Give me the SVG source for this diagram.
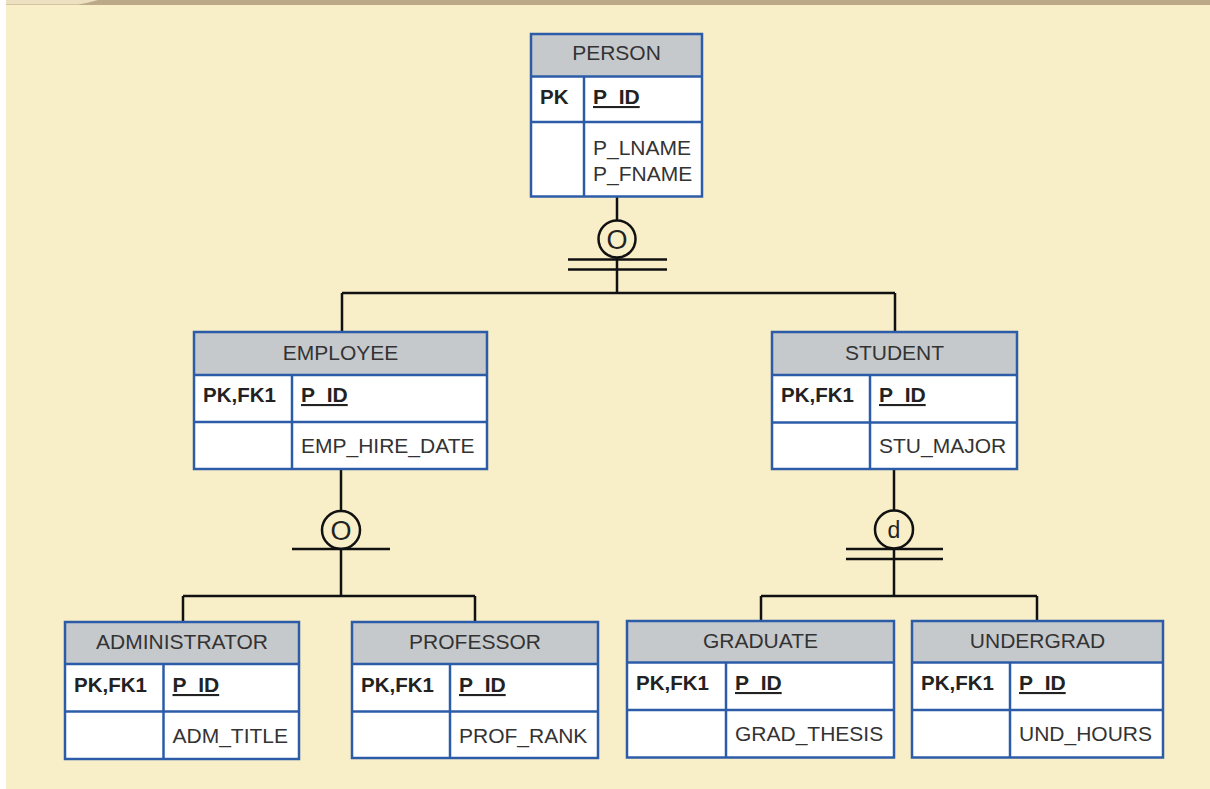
<svg xmlns="http://www.w3.org/2000/svg" width="1210" height="789" viewBox="0 0 1210 789">
<style>
.bg{fill:#f8eec8}
.hd{fill:#c6c9cc}
.cell{fill:#ffffff}
.bd{fill:none;stroke:#2c5ca8;stroke-width:2.5}
.ln{stroke:#2c5ca8;stroke-width:2.5}
.t{font-family:"Liberation Sans",Arial,sans-serif;font-size:21px;fill:#333333}
.th{font-family:"Liberation Sans",Arial,sans-serif;font-size:21px;fill:#333333;text-anchor:middle}
.k{font-family:"Liberation Sans",Arial,sans-serif;font-size:20.5px;font-weight:bold;fill:#222222}
.pk{font-family:"Liberation Sans",Arial,sans-serif;font-size:21px;font-weight:bold;fill:#222222;text-decoration:underline}
.c{fill:none;stroke:#111111;stroke-width:2.5}
.cl{stroke:#111111;stroke-width:2.5;fill:none}
.symo{font-family:"Liberation Sans",Arial,sans-serif;font-size:27px;fill:#222222;text-anchor:middle}
.symd{font-family:"Liberation Sans",Arial,sans-serif;font-size:23px;fill:#222222;text-anchor:middle}
</style>
<rect x="0" y="0" width="1210" height="789" fill="#ffffff"/>
<rect x="6" y="4" width="1204" height="785" class="bg"/>
<rect x="6" y="0" width="1204" height="5" fill="#bca988"/>
<path d="M6 0 H98 Q88 3 78 4.5 H6 Z" fill="#ece0c0"/>

<g id="connectors">
  <path class="cl" d="M617 197 V220.5"/>
  <circle class="c" cx="617" cy="239" r="18.5"/>
  <path class="cl" d="M568 259.5 H667 M568 269.5 H667 M617 257.5 V293 M342 293 H895 M342 293 V332 M895 293 V332"/>

  <path class="cl" d="M341 469 V511"/>
  <circle class="c" cx="341" cy="530" r="19"/>
  <path class="cl" d="M292 549 H390 M341 549 V596 M183 596 H475 M183 596 V622 M475 596 V622"/>

  <path class="cl" d="M894 469 V510.5"/>
  <circle class="c" cx="894" cy="529.5" r="19"/>
  <path class="cl" d="M846 549 H943 M846 559 H943 M894 548.5 V596 M761 596 H1037 M761 596 V621 M1037 596 V621"/>

  <text class="symo" x="617" y="248.5">O</text>
  <text class="symo" x="341" y="539.5">O</text>
  <text class="symd" x="894" y="537.5">d</text>
</g>

<g id="person">
  <rect x="531" y="34" width="171" height="42.5" class="hd"/>
  <rect x="531" y="76.5" width="171" height="120" class="cell"/>
  <line x1="531" y1="76.5" x2="702" y2="76.5" class="ln"/>
  <line x1="531" y1="122" x2="702" y2="122" class="ln"/>
  <line x1="584" y1="76.5" x2="584" y2="196.5" class="ln"/>
  <rect x="531" y="34" width="171" height="162.5" class="bd"/>
  <text class="th" x="616.5" y="60">PERSON</text>
  <text class="k" x="540" y="104">PK</text>
  <text class="pk" x="593" y="104">P_ID</text>
  <text class="t" x="593" y="155">P_LNAME</text>
  <text class="t" x="593" y="181">P_FNAME</text>
</g>

<g id="employee">
  <rect x="194" y="332" width="293" height="43" class="hd"/>
  <rect x="194" y="375" width="293" height="94" class="cell"/>
  <line x1="194" y1="375" x2="487" y2="375" class="ln"/>
  <line x1="194" y1="422" x2="487" y2="422" class="ln"/>
  <line x1="292" y1="375" x2="292" y2="469" class="ln"/>
  <rect x="194" y="332" width="293" height="137" class="bd"/>
  <text class="th" x="340.5" y="360">EMPLOYEE</text>
  <text class="k" x="203" y="402">PK,FK1</text>
  <text class="pk" x="301" y="402">P_ID</text>
  <text class="t" x="301" y="453">EMP_HIRE_DATE</text>
</g>

<g id="student">
  <rect x="772" y="332" width="245" height="43" class="hd"/>
  <rect x="772" y="375" width="245" height="94" class="cell"/>
  <line x1="772" y1="375" x2="1017" y2="375" class="ln"/>
  <line x1="772" y1="422.5" x2="1017" y2="422.5" class="ln"/>
  <line x1="870" y1="375" x2="870" y2="469" class="ln"/>
  <rect x="772" y="332" width="245" height="137" class="bd"/>
  <text class="th" x="894.5" y="360">STUDENT</text>
  <text class="k" x="781" y="402">PK,FK1</text>
  <text class="pk" x="879" y="402">P_ID</text>
  <text class="t" x="879" y="453">STU_MAJOR</text>
</g>

<g id="administrator">
  <rect x="65" y="622" width="234" height="42" class="hd"/>
  <rect x="65" y="664" width="234" height="95" class="cell"/>
  <line x1="65" y1="664" x2="299" y2="664" class="ln"/>
  <line x1="65" y1="711.5" x2="299" y2="711.5" class="ln"/>
  <line x1="163.5" y1="664" x2="163.5" y2="759" class="ln"/>
  <rect x="65" y="622" width="234" height="137" class="bd"/>
  <text class="th" x="182" y="649">ADMINISTRATOR</text>
  <text class="k" x="74" y="692">PK,FK1</text>
  <text class="pk" x="172.5" y="692">P_ID</text>
  <text class="t" x="172.5" y="743">ADM_TITLE</text>
</g>

<g id="professor">
  <rect x="352" y="622" width="246" height="42" class="hd"/>
  <rect x="352" y="664" width="246" height="94" class="cell"/>
  <line x1="352" y1="664" x2="598" y2="664" class="ln"/>
  <line x1="352" y1="711.5" x2="598" y2="711.5" class="ln"/>
  <line x1="450" y1="664" x2="450" y2="758" class="ln"/>
  <rect x="352" y="622" width="246" height="136" class="bd"/>
  <text class="th" x="475" y="649">PROFESSOR</text>
  <text class="k" x="361" y="692">PK,FK1</text>
  <text class="pk" x="459" y="692">P_ID</text>
  <text class="t" x="459" y="743">PROF_RANK</text>
</g>

<g id="graduate">
  <rect x="627" y="621" width="267" height="41.5" class="hd"/>
  <rect x="627" y="662.5" width="267" height="95" class="cell"/>
  <line x1="627" y1="662.5" x2="894" y2="662.5" class="ln"/>
  <line x1="627" y1="710" x2="894" y2="710" class="ln"/>
  <line x1="726" y1="662.5" x2="726" y2="757.5" class="ln"/>
  <rect x="627" y="621" width="267" height="136.5" class="bd"/>
  <text class="th" x="760.5" y="648">GRADUATE</text>
  <text class="k" x="636" y="690">PK,FK1</text>
  <text class="pk" x="735" y="690">P_ID</text>
  <text class="t" x="735" y="741">GRAD_THESIS</text>
</g>

<g id="undergrad">
  <rect x="912" y="621" width="251" height="41.5" class="hd"/>
  <rect x="912" y="662.5" width="251" height="95" class="cell"/>
  <line x1="912" y1="662.5" x2="1163" y2="662.5" class="ln"/>
  <line x1="912" y1="710" x2="1163" y2="710" class="ln"/>
  <line x1="1010" y1="662.5" x2="1010" y2="757.5" class="ln"/>
  <rect x="912" y="621" width="251" height="136.5" class="bd"/>
  <text class="th" x="1037.5" y="648">UNDERGRAD</text>
  <text class="k" x="921" y="690">PK,FK1</text>
  <text class="pk" x="1019" y="690">P_ID</text>
  <text class="t" x="1019" y="741">UND_HOURS</text>
</g>
</svg>
